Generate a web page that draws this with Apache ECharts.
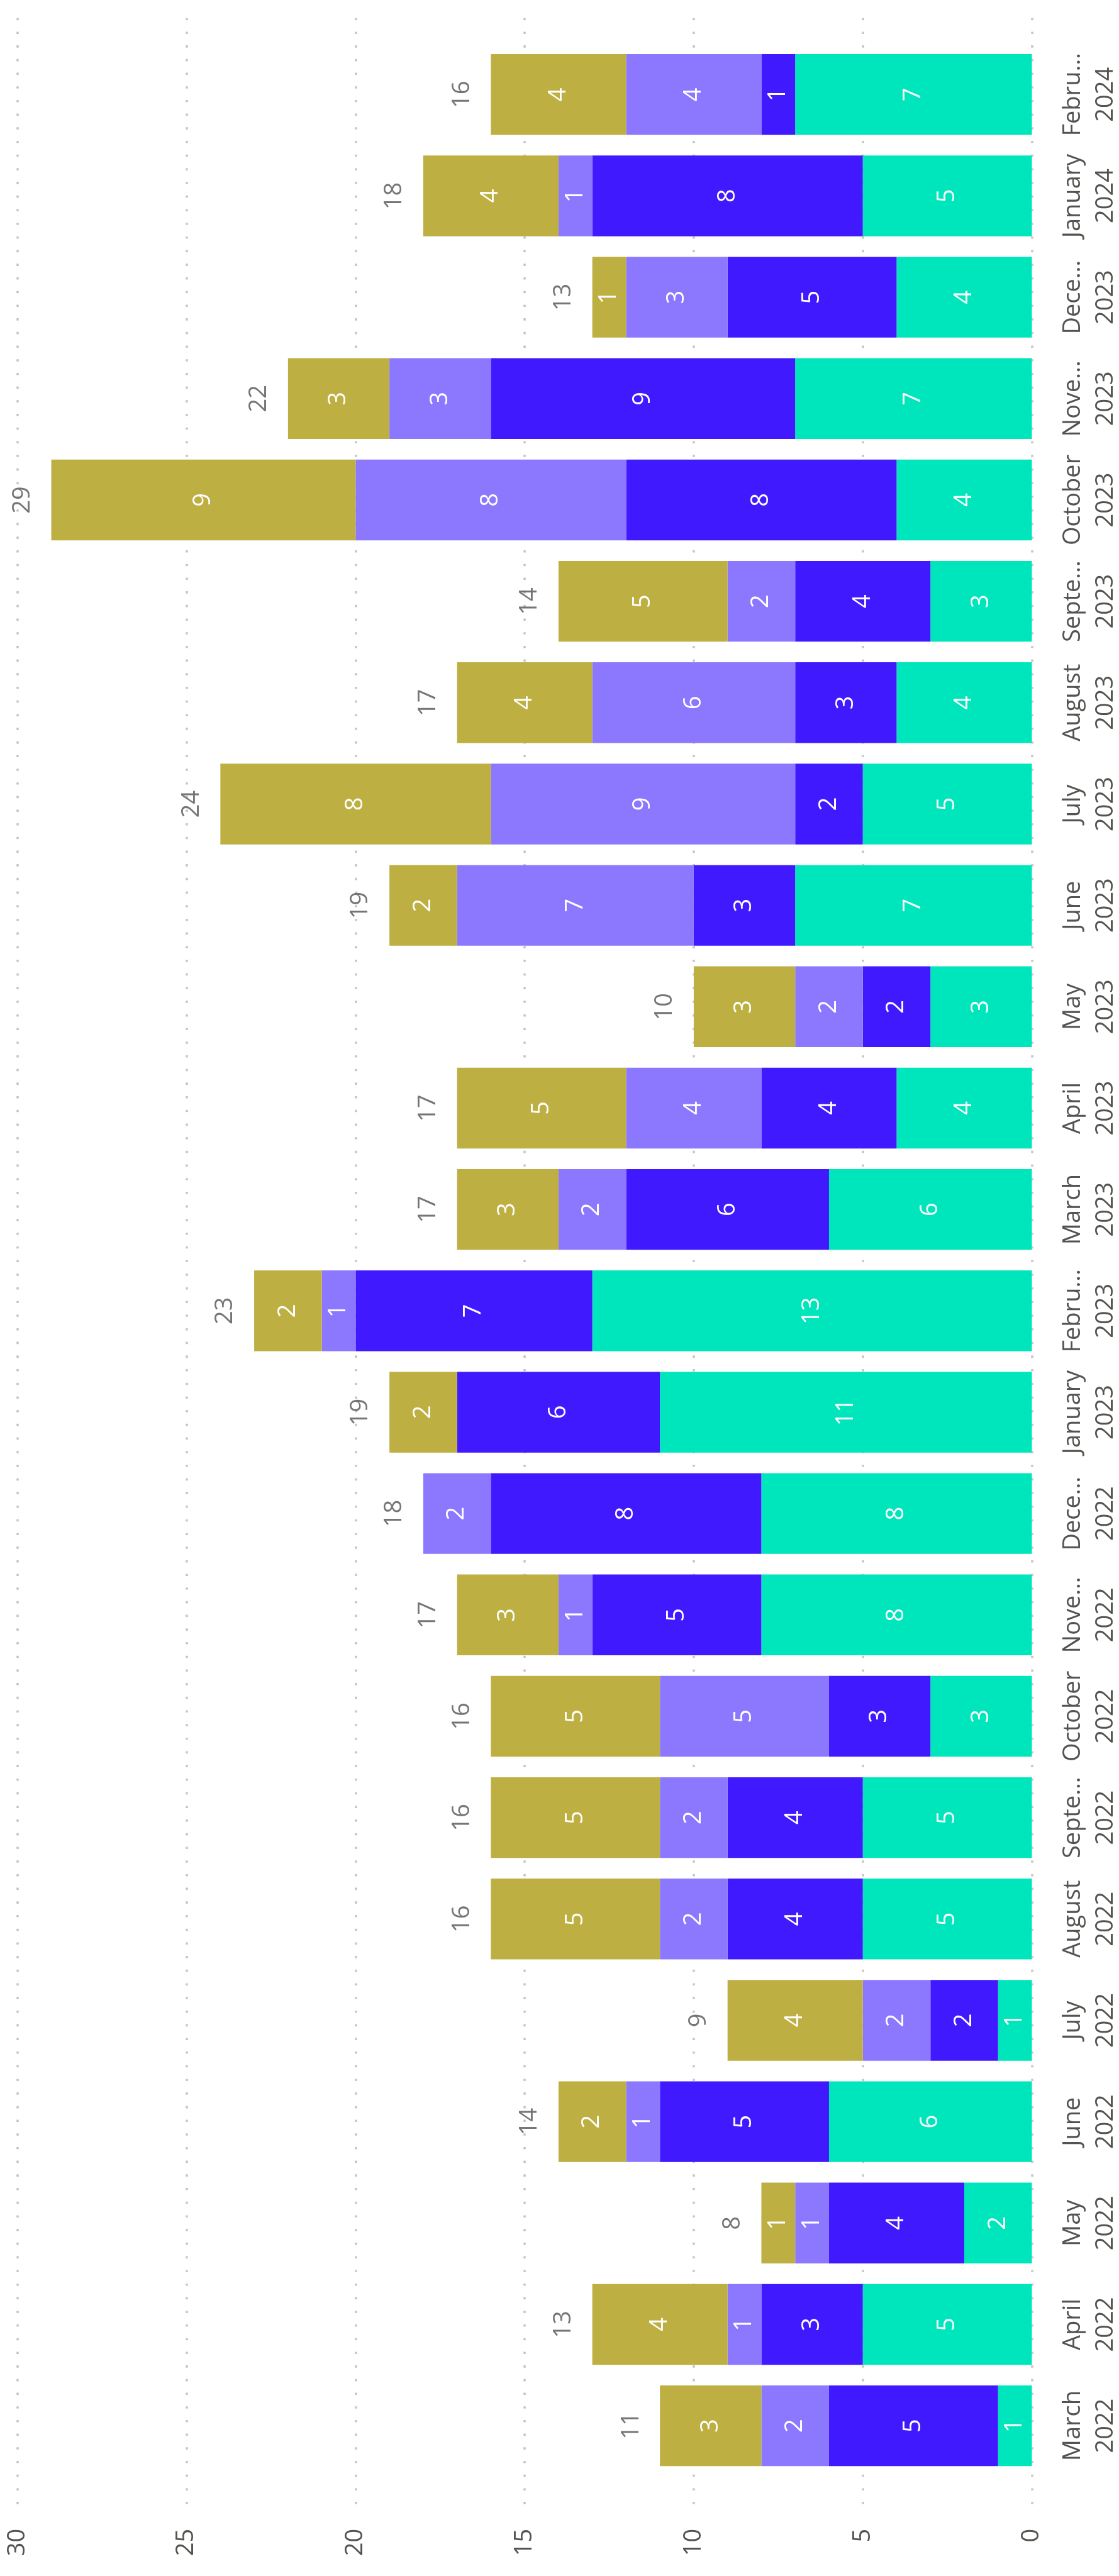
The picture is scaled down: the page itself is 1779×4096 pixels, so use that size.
<!DOCTYPE html>
<html>
<head>
<meta charset="utf-8">
<title>Monthly counts by category</title>
<script src="https://cdn.jsdelivr.net/npm/echarts@6/dist/echarts.min.js"></script>
<style>
  html, body { margin: 0; padding: 0; background: #ffffff; }
  #chart { width: 1779px; height: 4096px; }
</style>
</head>
<body>
<div id="chart"></div>
<script>
// Months, oldest first (drawn bottom to top)
const categories = [
  'March 2022', 'April 2022', 'May 2022', 'June 2022', 'July 2022', 'August 2022',
  'September 2022', 'October 2022', 'November 2022', 'December 2022',
  'January 2023', 'February 2023', 'March 2023', 'April 2023', 'May 2023', 'June 2023',
  'July 2023', 'August 2023', 'September 2023', 'October 2023', 'November 2023',
  'December 2023', 'January 2024', 'February 2024'
];

// Month text as shown on the axis (long names are clipped)
const monthLabels = [
  'March', 'April', 'May', 'June', 'July', 'August',
  'Septe\u2026', 'October', 'Nove\u2026', 'Dece\u2026',
  'January', 'Febru\u2026', 'March', 'April', 'May', 'June',
  'July', 'August', 'Septe\u2026', 'October', 'Nove\u2026',
  'Dece\u2026', 'January', 'Febru\u2026'
];
const yearLabels = [
  '2022', '2022', '2022', '2022', '2022', '2022', '2022', '2022', '2022', '2022',
  '2023', '2023', '2023', '2023', '2023', '2023', '2023', '2023', '2023', '2023', '2023', '2023',
  '2024', '2024'
];

// Stacked segments, from the baseline outwards
const seriesA = [1, 5, 2, 6, 1, 5, 5, 3, 8, 8, 11, 13, 6, 4, 3, 7, 5, 4, 3, 4, 7, 4, 5, 7];
const seriesB = [5, 3, 4, 5, 2, 4, 4, 3, 5, 8, 6, 7, 6, 4, 2, 3, 2, 3, 4, 8, 9, 5, 8, 1];
const seriesC = [2, 1, 1, 1, 2, 2, 2, 5, 1, 2, 0, 1, 2, 4, 2, 7, 9, 6, 2, 8, 3, 3, 1, 4];
const seriesD = [3, 4, 1, 2, 4, 5, 5, 5, 3, 0, 2, 2, 3, 5, 3, 2, 8, 4, 5, 9, 3, 1, 4, 4];

// Totals printed past the end of each bar
const totals = [11, 13, 8, 14, 9, 16, 16, 16, 17, 18, 19, 23, 17, 17, 10, 19, 24, 17, 14, 29, 22, 13, 18, 16];

// Value axis ticks
const valueTicks = [0, 5, 10, 15, 20, 25, 30];

const colors = ['#00e6bc', '#4119ff', '#8b78ff', '#bdaf42'];
const FONT = '"Open Sans", "Noto Sans", sans-serif';
const TEXT_GREY = '#555350';
const FS = 38;

const chart = echarts.init(document.getElementById('chart'), null, { renderer: 'canvas' });

const valueMin = valueTicks[0];
const valueMax = valueTicks[valueTicks.length - 1];
const valueStep = valueTicks[1] - valueTicks[0];

function segment(name, data, color) {
  return {
    name: name,
    type: 'bar',
    stack: 'total',
    xAxisIndex: 0,
    yAxisIndex: 0,
    data: data,
    barCategoryGap: '20.3%',
    itemStyle: { color: color },
    label: {
      show: true,
      position: 'inside',
      rotate: 90,
      color: '#ffffff',
      fontFamily: FONT,
      fontSize: FS,
      formatter: p => (p.value ? String(p.value) : '')
    },
    emphasis: { disabled: true },
    silent: true
  };
}

const option = {
  animation: false,
  backgroundColor: '#ffffff',
  grid: [
    // plot area holding the bars
    { left: 27.8, right: 138.5, top: 69.7, height: 3868, containLabel: false, outerBoundsMode: 'none' },
    // slightly taller area carrying the dotted gridlines and value ticks
    { left: 27.8, right: 138.5, top: 28.7, height: 3958, containLabel: false, outerBoundsMode: 'none' }
  ],
  xAxis: [
    {
      type: 'value', gridIndex: 0, inverse: true,
      min: valueMin, max: valueMax, interval: valueStep,
      axisLine: { show: false }, axisTick: { show: false },
      axisLabel: { show: false }, splitLine: { show: false }
    },
    {
      type: 'value', gridIndex: 1, inverse: true, position: 'bottom',
      min: valueMin, max: valueMax, interval: valueStep,
      axisLine: { show: false }, axisTick: { show: false },
      axisLabel: {
        show: true,
        rotate: 90,
        margin: 34,
        align: 'right',
        verticalAlign: 'middle',
        color: TEXT_GREY,
        fontFamily: FONT,
        fontSize: FS
      },
      splitLine: {
        show: true,
        lineStyle: { color: '#c8c6c4', width: 3.6, type: [3.6, 18.1], cap: 'butt' }
      }
    }
  ],
  yAxis: [
    {
      type: 'category', gridIndex: 0, position: 'right',
      data: categories,
      axisLine: { show: false }, axisTick: { show: false }, splitLine: { show: false },
      axisLabel: {
        show: true,
        interval: 0,
        rotate: 90,
        margin: 40,
        align: 'center',
        verticalAlign: 'top',
        lineHeight: 52,
        color: TEXT_GREY,
        fontFamily: FONT,
        fontSize: FS,
        formatter: (value, index) => monthLabels[index] + '\n' + yearLabels[index]
      }
    },
    {
      type: 'value', gridIndex: 1, show: false, min: 0, max: 1,
      splitLine: { show: false }
    }
  ],
  series: [
    segment('A', seriesA, colors[0]),
    segment('B', seriesB, colors[1]),
    segment('C', seriesC, colors[2]),
    segment('D', seriesD, colors[3]),
    {
      name: 'Total',
      type: 'scatter',
      xAxisIndex: 0,
      yAxisIndex: 0,
      data: totals.map((t, i) => [t, i]),
      symbolSize: 1,
      itemStyle: { color: 'rgba(0,0,0,0)' },
      label: {
        show: true,
        position: 'left',
        distance: 26,
        rotate: 90,
        align: 'center',
        verticalAlign: 'bottom',
        color: TEXT_GREY,
        fontFamily: FONT,
        fontSize: FS,
        formatter: p => String(p.value[0])
      },
      emphasis: { disabled: true },
      silent: true,
      z: 5
    }
  ]
};

chart.setOption(option);
</script>
</body>
</html>
